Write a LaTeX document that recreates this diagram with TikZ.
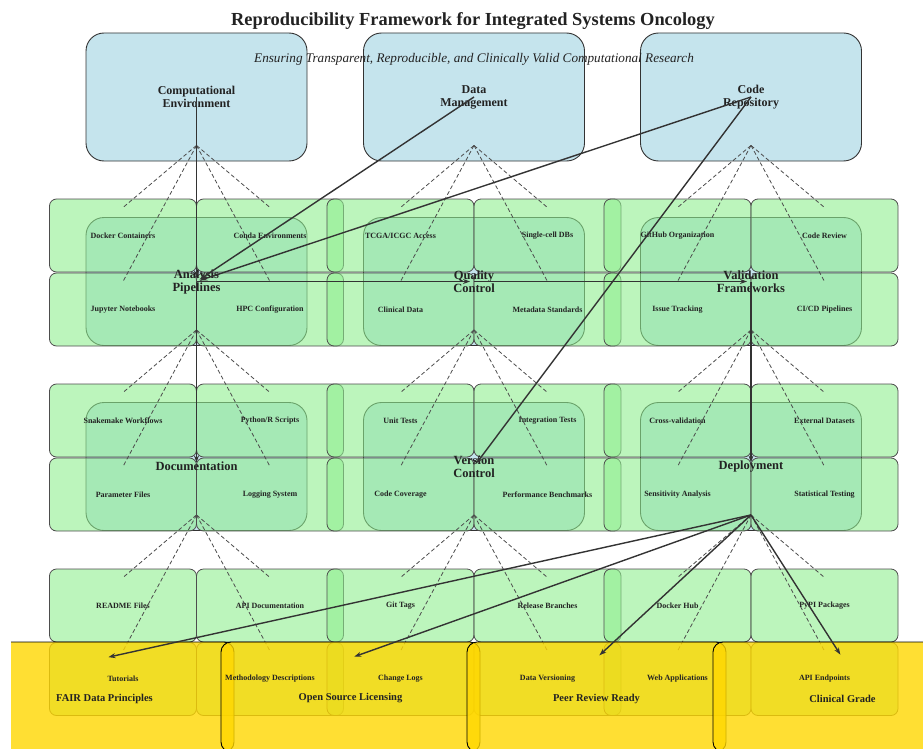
\documentclass[tikz,border=0pt]{standalone}
\usepackage{fontspec}
\setmainfont{Liberation Serif}
\usetikzlibrary{arrows.meta}

\definecolor{lightblue}{HTML}{ADD8E6}
\definecolor{lightgreen}{HTML}{90EE90}
\definecolor{gold}{HTML}{FFD700}
\definecolor{edgegray}{HTML}{4D4D4D}
\definecolor{inkgray}{HTML}{333333}
\definecolor{textgray}{HTML}{222222}

\tikzset{
  groupbox/.style={draw=inkgray, line width=0.9pt, rounded corners=18pt,
    fill=lightblue, fill opacity=0.7, text opacity=1, text=textgray,
    minimum width=221pt, minimum height=128pt, inner sep=0pt, align=center,
    font=\bfseries\fontsize{12}{13}\selectfont},
  itembox/.style={draw=edgegray, line width=0.8pt, rounded corners=7pt,
    fill=lightgreen, fill opacity=0.6, minimum width=147pt,
    minimum height=73pt, inner sep=0pt},
  itemlabel/.style={text=textgray, font=\bfseries\fontsize{8}{9}\selectfont},
  grouplabel/.style={text=textgray, align=center,
    font=\bfseries\fontsize{12.5}{13}\selectfont},
  principlebox/.style={draw=black, line width=0.9pt, rounded corners=10pt,
    fill=gold, fill opacity=0.8, minimum width=259pt, minimum height=110pt},
  principlelabel/.style={text=textgray, font=\bfseries\fontsize{10.5}{12}\selectfont},
  fan/.style={draw=gray!60!black, line width=0.8pt, dash pattern=on 4pt off 2.5pt},
  flow/.style={draw=inkgray, line width=1.4pt,
    -{Stealth[length=7pt,width=5pt]}, shorten >=4pt},
}

\begin{document}
\begin{tikzpicture}[x=1pt, y=-1pt]
\useasboundingbox (0,0) rectangle (923,749);

% top level groups
\node[groupbox] (compenv) at (196.5,97) {Computational\\Environment};
\node[groupbox] (datamgmt) at (474,97) {Data\\Management};
\node[groupbox] (coderepo) at (751,97) {Code\\Repository};

% second and third level groups (labels drawn later)
\foreach \name/\x/\y in {pipelines/196.5/281.5, quality/474/281.5,
    validation/751/281.5, documentation/196.5/466.5,
    versioning/474/466.5, deployment/751/466.5}
  \node[groupbox] (\name) at (\x,\y) {};

% component boxes
\foreach \name/\x/\y in {
    docker/123/235.5, conda/270/235.5, jupyter/123/309.5, hpc/270/309.5,
    tcga/400.5/235.5, singlecell/547.5/235.5, clinicaldata/400.5/309.5, metadata/547.5/309.5,
    github/677.5/235.5, codereview/824.5/235.5, issues/677.5/309.5, cicd/824.5/309.5,
    snakemake/123/420.5, scripts/270/420.5, params/123/494.5, logging/270/494.5,
    unittests/400.5/420.5, integration/547.5/420.5, coverage/400.5/494.5, benchmarks/547.5/494.5,
    crossval/677.5/420.5, external/824.5/420.5, sensitivity/677.5/494.5, stats/824.5/494.5,
    readme/123/605.5, apidocs/270/605.5, tutorials/123/679, methods/270/679,
    gittags/400.5/605.5, branches/547.5/605.5, changelogs/400.5/679, dataversion/547.5/679,
    dockerhub/677.5/605.5, pypi/824.5/605.5, webapps/677.5/679, endpoints/824.5/679}
  \node[itembox] (\name) at (\x,\y) {};

% dashed fans from each group to its components
\foreach \grp/\a/\b/\c/\d in {compenv/docker/conda/jupyter/hpc,
    datamgmt/tcga/singlecell/clinicaldata/metadata,
    coderepo/github/codereview/issues/cicd,
    pipelines/snakemake/scripts/params/logging,
    quality/unittests/integration/coverage/benchmarks,
    validation/crossval/external/sensitivity/stats,
    documentation/readme/apidocs/tutorials/methods,
    versioning/gittags/branches/changelogs/dataversion,
    deployment/dockerhub/pypi/webapps/endpoints} {
  \coordinate (\grp-hub) at ([yshift=16pt]\grp.south);
  \foreach \item in {\a,\b,\c,\d}
    \draw[fan] (\grp-hub) -- ([yshift=28pt]\item.center);
}

% principles band
\begin{scope}
  \clip (11,0) rectangle (923,749);
  \foreach \name/\x in {fair/104.5, opensource/350.5, peerreview/596.5, clinical/842.5}
    \node[principlebox] (\name) at (\x,697) {};
\end{scope}

% labels
\foreach \name/\txt in {
    docker/Docker Containers, conda/Conda Environments,
    jupyter/Jupyter Notebooks, hpc/HPC Configuration,
    tcga/TCGA\slash ICGC Access, singlecell/Single-cell DBs,
    clinicaldata/Clinical Data, metadata/Metadata Standards,
    github/GitHub Organization, codereview/Code Review,
    issues/Issue Tracking, cicd/CI\slash CD Pipelines,
    snakemake/Snakemake Workflows, scripts/Python\slash R Scripts,
    params/Parameter Files, logging/Logging System,
    unittests/Unit Tests, integration/Integration Tests,
    coverage/Code Coverage, benchmarks/Performance Benchmarks,
    crossval/Cross-validation, external/External Datasets,
    sensitivity/Sensitivity Analysis, stats/Statistical Testing,
    readme/README Files, apidocs/API Documentation,
    tutorials/Tutorials, methods/Methodology Descriptions,
    gittags/Git Tags, branches/Release Branches,
    changelogs/Change Logs, dataversion/Data Versioning,
    dockerhub/Docker Hub, pypi/PyPI Packages,
    webapps/Web Applications, endpoints/API Endpoints}
  \node[itemlabel] (\name-label) at (\name.center) {\txt};

\node[grouplabel] (pipelines-label) at (pipelines.center) {Analysis\\Pipelines};
\node[grouplabel] (quality-label) at (quality.center) {Quality\\Control};
\node[grouplabel] (validation-label) at (validation.center) {Validation\\Frameworks};
\node[grouplabel] (documentation-label) at (documentation.center) {Documentation};
\node[grouplabel] (versioning-label) at (versioning.center) {Version\\Control};
\node[grouplabel] (deployment-label) at (deployment.center) {Deployment};

\node[principlelabel] (fair-label) at ([yshift=-1.5pt]fair.center) {FAIR Data Principles};
\node[principlelabel] (opensource-label) at ([yshift=-1.5pt]opensource.center) {Open Source Licensing};
\node[principlelabel] (peerreview-label) at ([yshift=-1.5pt]peerreview.center) {Peer Review Ready};
\node[principlelabel] (clinical-label) at ([yshift=-1.5pt]clinical.center) {Clinical Grade};

\node[text=textgray, font=\bfseries\fontsize{18.4}{20}\selectfont] (title) at (473,21)
  {Reproducibility Framework for Integrated Systems Oncology};
\node[text=textgray, font=\itshape\fontsize{13.2}{15}\selectfont] (subtitle) at (474,59.5)
  {Ensuring Transparent, Reproducible, and Clinically Valid Computational Research};

% flows between groups
\draw[flow] (compenv.center) -- (pipelines.center);
\draw[flow] (datamgmt.center) -- (pipelines.center);
\draw[flow] (coderepo.center) -- (pipelines.center);
\draw[flow] (coderepo.center) -- (versioning.center);
\draw[flow] (pipelines.center) -- (quality.center);
\draw[flow] (quality.center) -- (validation.center);
\draw[flow] (pipelines.center) -- (documentation.center);
\draw[flow] (validation.center) -- (deployment.center);
\foreach \goal in {fair, opensource, peerreview, clinical}
  \draw[flow] (deployment-hub) -- ([yshift=39pt]\goal.center);
\end{tikzpicture}
\end{document}
